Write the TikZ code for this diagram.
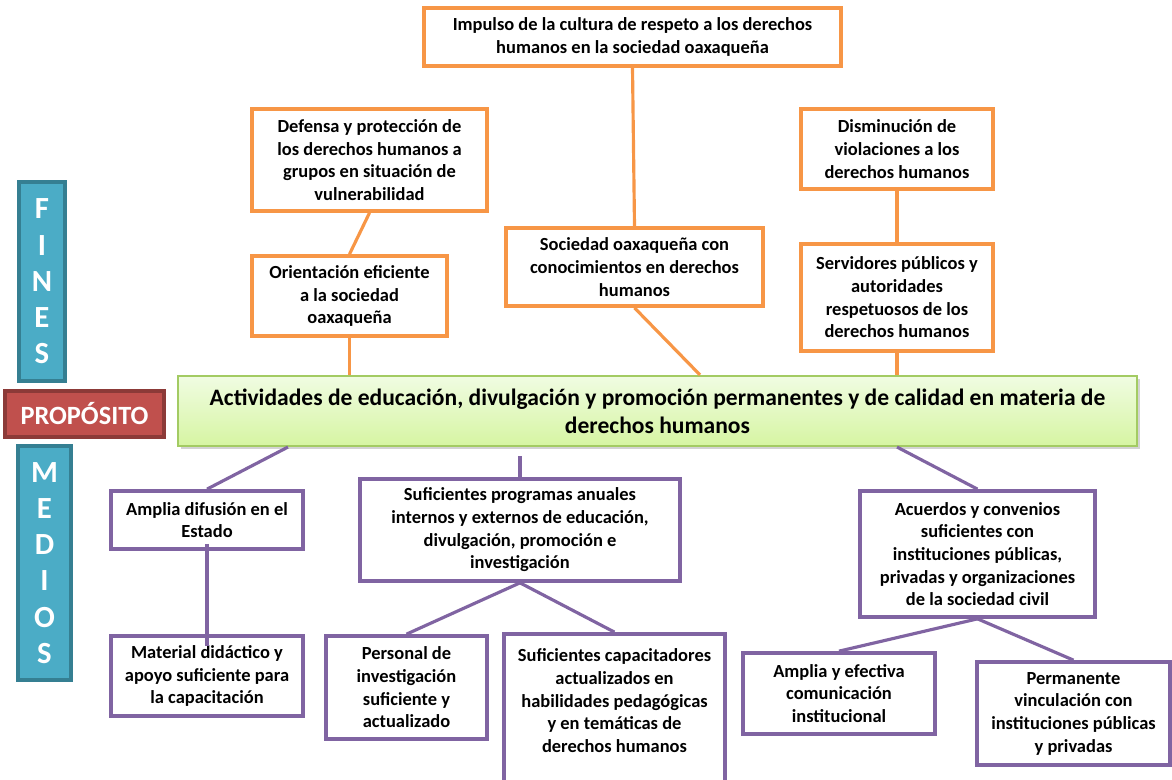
\documentclass[tikz,border=0pt]{standalone}
\usepackage{fontspec}
\setmainfont{Carlito}
\usepackage{tikz}
\usetikzlibrary{positioning,shadows}
\usepackage{xcolor}
\definecolor{finorange}{HTML}{F79646}
\definecolor{mediopurple}{HTML}{8064A2}
\definecolor{tealfill}{HTML}{4BACC6}
\definecolor{tealdraw}{HTML}{357F92}
\definecolor{redfill}{HTML}{C0504D}
\definecolor{reddraw}{HTML}{8C3A38}
\definecolor{greentop}{HTML}{F0FCE2}
\definecolor{greenbot}{HTML}{D6F5A2}
\definecolor{greendraw}{HTML}{A3CB63}

\begin{document}
\begin{tikzpicture}[
    fin/.style={draw=finorange, line width=2.1pt, fill=white, align=center, inner sep=2pt,
        font=\bfseries\fontsize{10.5}{12.9}\selectfont},
    medio/.style={draw=mediopurple, line width=2.1pt, fill=white, align=center, inner sep=2pt,
        font=\bfseries\fontsize{10.5}{12.9}\selectfont},
    finline/.style={finorange, line width=1.8pt},
    medline/.style={mediopurple, line width=1.8pt},
    sidebox/.style={draw=tealdraw, fill=tealfill, line width=1.8pt, text=white, align=center,
        font=\bfseries\fontsize{17.5}{20.6}\selectfont}
]
    \useasboundingbox (0,0) rectangle (23.44,-15.6);

    % Fines
    \node[fin, minimum width=8.34cm, minimum height=1.16cm] (imp) at (12.65,-0.74)
        {Impulso de la cultura de respeto a los derechos\\humanos en la sociedad oaxaqueña};
    \node[fin, minimum width=4.7cm, minimum height=2.04cm] (def) at (7.39,-3.2)
        {Defensa y protección de\\los derechos humanos a\\grupos en situación de\\vulnerabilidad};
    \node[fin, minimum width=3.84cm, minimum height=1.6cm] (dis) at (17.94,-2.98)
        {Disminución de\\violaciones a los\\derechos humanos};
    \node[fin, minimum width=3.9cm, minimum height=1.6cm] (ori) at (6.99,-5.92)
        {Orientación eficiente\\a la sociedad\\oaxaqueña};
    \node[fin, minimum width=5.14cm, minimum height=1.56cm] (soc) at (12.69,-5.34)
        {Sociedad oaxaqueña con\\conocimientos en derechos\\humanos};
    \node[fin, minimum width=3.84cm, minimum height=2.14cm] (ser) at (17.94,-5.95)
        {Servidores públicos y\\autoridades\\respetuosos de los\\derechos humanos};

    % Proposito
    \node[draw=greendraw, line width=1.2pt, top color=greentop, bottom color=greenbot,
        drop shadow={opacity=0.35, shadow xshift=0.05cm, shadow yshift=-0.07cm},
        minimum width=19.18cm, minimum height=1.4cm, align=center,
        font=\bfseries\fontsize{13.4}{15.9}\selectfont] (pur) at (13.15,-8.22)
        {Actividades de educación, divulgación y promoción permanentes y de calidad en materia de\\derechos humanos};

    % side labels
    \node[sidebox, minimum width=0.92cm, minimum height=3.98cm] (fines) at (0.84,-5.63) {F\\I\\N\\E\\S};
    \node[draw=reddraw, fill=redfill, line width=1.8pt, text=white, minimum width=3.18cm,
        minimum height=0.92cm, font=\bfseries\fontsize{15}{17}\selectfont] (prop) at (1.69,-8.28) {PROPÓSITO};
    \node[sidebox, minimum width=1.06cm, minimum height=4.68cm] (medios) at (0.89,-11.26) {M\\E\\D\\I\\O\\S};

    % Medios
    \node[medio, minimum width=3.84cm, minimum height=1.16cm] (dif) at (4.14,-10.4)
        {Amplia difusión en el\\Estado};
    \node[medio, minimum width=3.84cm, minimum height=1.6cm] (mat) at (4.14,-13.52)
        {Material didáctico y\\apoyo suficiente para\\la capacitación};
    \node[medio, minimum width=6.4cm, minimum height=2.04cm] (prog) at (10.4,-10.6)
        {Suficientes programas anuales\\internos y externos de educación,\\divulgación, promoción e\\investigación};
    \node[medio, minimum width=3.22cm, minimum height=2.06cm] (per) at (8.13,-13.75)
        {Personal de\\investigación\\suficiente y\\actualizado};
    \node[medio, minimum width=4.42cm, minimum height=3.12cm] (cap) at (12.29,-14.24)
        {Suficientes capacitadores\\actualizados en\\habilidades pedagógicas\\y en temáticas de\\derechos humanos\\\mbox{}};
    \node[medio, minimum width=4.7cm, minimum height=2.52cm] (acu) at (19.55,-11.08)
        {Acuerdos y convenios\\suficientes con\\instituciones públicas,\\privadas y organizaciones\\de la sociedad civil};
    \node[medio, minimum width=3.84cm, minimum height=1.62cm] (efe) at (16.78,-13.87)
        {Amplia y efectiva\\comunicación\\institucional};
    \node[medio, minimum width=3.86cm, minimum height=2.06cm] (vin) at (21.47,-14.27)
        {Permanente\\vinculación con\\instituciones públicas\\y privadas};

    % connectors, fines
    \draw[finline] (imp.south) -- (soc.north);
    \draw[finline] (def.south) -- (ori.north);
    \draw[finline] (dis.south) -- (ser.north);
    \draw[finline] (ori.south) -- (ori.south |- pur.north);
    \draw[finline] (soc.south) -- ([xshift=0.85cm]pur.north);
    \draw[finline] (ser.south) -- (ser.south |- pur.north);

    % connectors, medios
    \draw[medline] ([xshift=-7.39cm]pur.south) -- (dif.north);
    \draw[medline] ([yshift=-0.18cm]prog.north |- pur.south) -- (prog.north);
    \draw[medline] ([xshift=4.79cm]pur.south) -- (acu.north);
    \draw[medline] ([yshift=0.14cm]dif.south) -- ([yshift=-0.24cm]mat.north);
    \draw[medline] (prog.south) -- (per.north);
    \draw[medline] (prog.south) -- (cap.north);
    \draw[medline] (acu.south) -- (efe.north);
    \draw[medline] (acu.south) -- (vin.north);
\end{tikzpicture}
\end{document}
